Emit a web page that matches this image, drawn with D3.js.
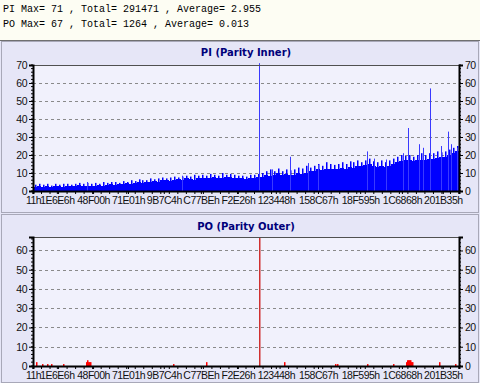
<!DOCTYPE html>
<html><head><meta charset="utf-8">
<script src="https://cdn.jsdelivr.net/npm/d3@7"></script>
<style>html,body{margin:0;padding:0;background:#fff}svg{display:block}</style>
</head><body>
<script>
// ---------- DATA ----------
const headerLines = [
  "PI Max= 71 , Total= 291471 , Average= 2.955",
  "PO Max= 67 , Total= 1264 , Average= 0.013"
];
const xTickLabels = ["11h","1E6E6h","48F00h","71E01h","9B7C4h","C77BEh","F2E26h","123448h","158C67h","18F595h","1C6868h","201B35h"];
const xTickPos = [0, 5.6, 14.1, 22.3, 30.7, 39.4, 48.1, 57.0, 66.9, 76.8, 86.6, 96.2]; // % of scan
const piTicks = [0,10,20,30,40,50,60,70];
const poTicks = [0,10,20,30,40,50,60];
// PI base level per bin (107 bins across 0..100 %)
const piBase = [
  2.5,3,2.5,3,2.5,3,3,2.5,3,3,3,3.5,3,3,
  3,3,3.5,3,3.5,4,3.5,4,4,4.5,4,
  4.5,5,4.5,5,5,5.5,5,6,
  6,5.5,6,6.5,6,7,6.5,6,7,
  7,7.5,7,8,7.5,7,8,8,7.5,7,
  7,6.5,7,7.5,8,
  8,9,8.5,9,10,9,9.5,9,
  9,10,9.5,10,11,
  11,12,11.5,12,12.5,12,
  12.5,13,12,13.5,13,14,14,
  14.5,15,14,13.5,14,13.5,
  14,15,16,16.5,17,
  17,16.5,17,17.5,17,18,
  18,18.5,19,19,20,21,22
];
// PI local peak per bin (jagged top of the fill)
const piPeak = [
  3.5,4,3.5,4,3,4,3.5,4,4,3.5,4,4.5,4,4.5,
  4,4.5,4,5,4.5,5,5,4.5,5.5,5,6,
  5.5,6.5,6,6,7,6.5,7,7.5,
  7,7.5,8,7.5,8,8.5,8,9,8.5,
  9,8.5,9.5,9,8.5,10,9,9.5,9,8.5,
  8.5,8,9,9,9.5,
  10,11,12,11,12.5,11,12,11.5,
  12,13,12.5,14,13,
  14,15,14,16,15,14.5,
  15,16,15,16.5,16,17,16,
  17,18,16.5,16,17,16,
  17,18,19,20,19.5,
  20,19,20,21,20,21,
  21,22,21.5,22,23,24,25
];
// PI isolated spikes: position (%) and value
const piSpikePos = [12.7,35.0,53.05,56.1,60.3,64.6,66.9,78.4,80.0,82.9,86.9,88.0,90.6,91.5,93.2,95.8,97.4,98.1,99.5];
const piSpikeVal = [5,8.5,71,12,19,15.5,14.5,22,18,17.5,21,35,26,24,57,25,33,26,24];
// PO values: position (%) and value
const poPos = [0.7,2.1,3.3,4.2,7.0,12.4,12.7,12.9,13.1,13.4,32.9,40.6,53.05,58.9,70.9,71.4,78.4,84.5,87.6,87.8,88.0,88.3,88.5,88.7,89.0,95.3,99.1];
const poVal = [2,1,1,1,1,2,3,2,2,2,1,2,67,2,1,1,1,1,2,3,3,3,3,2,2,2,1];

// ---------- LAYOUT ----------
const W = 480, H = 383;
const svg = d3.select("body").append("svg").attr("width", W).attr("height", H);
svg.append("rect").attr("x",0).attr("y",0).attr("width",W).attr("height",H).attr("fill","#e6e6f7");

// header
svg.append("rect").attr("x",0).attr("y",0).attr("width",W).attr("height",40).attr("fill","#fdfdf3");
svg.append("line").attr("x1",0).attr("x2",W).attr("y1",40.5).attr("y2",40.5).attr("stroke","#707070");
svg.selectAll("text.hdr").data(headerLines).join("text").attr("class","hdr")
  .attr("x",3).attr("y",(d,i)=>12+i*15)
  .attr("font-family","'Liberation Mono','DejaVu Sans Mono',monospace").attr("font-size",10)
  .attr("fill","#000").text(d=>d);

const plotL = 33, plotR = 459;
const x = d3.scaleLinear().domain([0,100]).range([plotL, plotR]);
const tickFont = g => g.selectAll("text").attr("font-family","Arial,'Liberation Sans',sans-serif")
  .attr("font-size",10.5).attr("letter-spacing","-0.5px").attr("fill","#111");

function panel(cfg){
  const g = svg.append("g");
  g.append("rect").attr("x",1.5).attr("y",cfg.py+0.5).attr("width",W-3).attr("height",cfg.ph)
    .attr("fill","#e6e6f7").attr("stroke","#a8a8b8");
  g.append("text").attr("x",(plotL+plotR)/2).attr("y",cfg.titleY)
    .attr("text-anchor","middle").attr("font-family","Verdana,'DejaVu Sans',sans-serif")
    .attr("font-weight","bold").attr("font-size",10).attr("fill","#00007a").text(cfg.title);
  const y = d3.scaleLinear().domain([0,cfg.ymax]).range([cfg.bottom, cfg.top]);
  g.append("rect").attr("x",plotL).attr("y",cfg.top).attr("width",plotR-plotL).attr("height",cfg.bottom-cfg.top)
    .attr("fill","#f1f1fc");
  g.selectAll("line.grid").data(cfg.ticks.filter(t=>t>0 && y(t)>cfg.top+1)).join("line")
    .attr("x1",plotL).attr("x2",plotR).attr("y1",d=>Math.round(y(d))+0.5).attr("y2",d=>Math.round(y(d))+0.5)
    .attr("stroke","#8a8a8a").attr("stroke-dasharray","3,3");
  cfg.draw(g, y);
  g.append("line").attr("x1",plotL).attr("x2",plotR).attr("y1",cfg.top+0.5).attr("y2",cfg.top+0.5).attr("stroke","#505050");
  const minor = d3.range(0, cfg.ymax+0.01, 2);
  const axL = d3.axisLeft(y).tickValues(cfg.ticks).tickSize(4).tickPadding(2).tickFormat(d3.format("d"));
  const axR = d3.axisRight(y).tickValues(cfg.ticks).tickSize(4).tickPadding(2).tickFormat(d3.format("d"));
  const gl = g.append("g").attr("transform",`translate(${plotL},0)`).call(axL);
  const gr = g.append("g").attr("transform",`translate(${plotR},0)`).call(axR);
  [gl,gr].forEach((ga,k)=>{
    ga.select(".domain").attr("stroke","#000").attr("stroke-width",2);
    tickFont(ga);
    ga.selectAll(".minor").data(minor).join("line").attr("class","minor")
      .attr("x1",0).attr("x2",k===0?-2:2).attr("y1",d=>y(d)).attr("y2",d=>y(d)).attr("stroke","#000");
  });
  const axB = d3.axisBottom(x).tickValues(xTickPos).tickSize(3).tickPadding(3).tickFormat((d,i)=>xTickLabels[i]);
  const gb = g.append("g").attr("transform",`translate(0,${cfg.bottom})`).call(axB);
  gb.select(".domain").attr("stroke","#000").attr("stroke-width",2);
  tickFont(gb);
  gb.selectAll(".minor").data(d3.range(0,100.1,2)).join("line").attr("class","minor")
    .attr("x1",d=>x(d)).attr("x2",d=>x(d)).attr("y1",0).attr("y2",3).attr("stroke","#000");
}

panel({
  py:41, ph:171, title:"PI (Parity Inner)", titleY:56, top:65, bottom:191, ymax:70, ticks:piTicks,
  draw:(g,y)=>{
    const step = 100/piBase.length;
    g.selectAll("rect.pib").data(piBase).join("rect").attr("class","pib")
      .attr("x",(d,i)=>x(i*step)).attr("width",(d,i)=>x((i+1)*step)-x(i*step)+0.3)
      .attr("y",d=>y(d)).attr("height",d=>y(0)-y(d)).attr("fill","#0000ff").attr("shape-rendering","crispEdges");
    g.selectAll("rect.pip").data(piPeak).join("rect").attr("class","pip")
      .attr("x",(d,i)=>Math.round(x((i+0.5)*step))).attr("width",1.5)
      .attr("y",d=>y(d)).attr("height",d=>y(0)-y(d)).attr("fill","#0000ff");
    g.selectAll("line.pis").data(piSpikePos).join("line").attr("class","pis")
      .attr("x1",d=>Math.round(x(d))+0.5).attr("x2",d=>Math.round(x(d))+0.5)
      .attr("y1",y(0)).attr("y2",(d,i)=>y(piSpikeVal[i])).attr("stroke","#3a3aff").attr("stroke-width",1);
  }
});

panel({
  py:214, ph:168, title:"PO (Parity Outer)", titleY:230, top:237, bottom:366, ymax:67, ticks:poTicks,
  draw:(g,y)=>{
    g.selectAll("rect.po").data(poPos).join("rect").attr("class","po")
      .attr("x",d=>Math.round(x(d))).attr("width",1.5)
      .attr("y",(d,i)=>y(poVal[i])).attr("height",(d,i)=>y(0)-y(poVal[i]))
      .attr("fill",(d,i)=>poVal[i]>10?"#d03030":"#ff0000");
  }
});
</script>
</body></html>
